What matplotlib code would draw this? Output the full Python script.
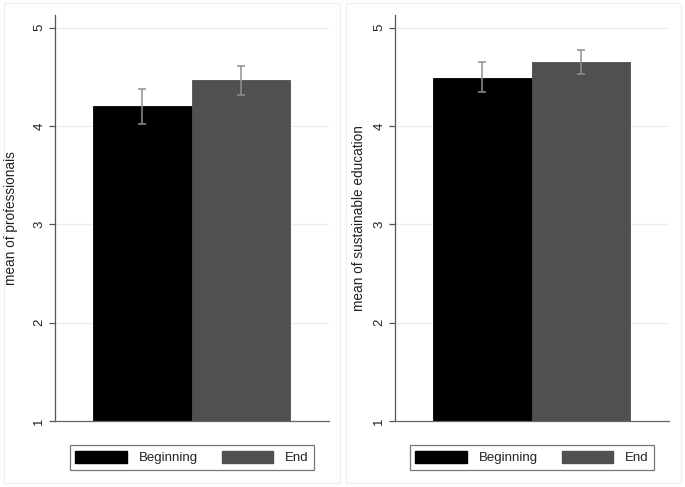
import matplotlib
matplotlib.use("Agg")
import matplotlib.pyplot as plt
from matplotlib.patches import Rectangle, Patch

plt.rcParams['font.family'] = ['Liberation Sans', 'DejaVu Sans']

groups = ["Beginning", "End"]
colors = ["#000000", "#505050"]
ylabels = ["mean of professionals", "mean of sustainable education"]
means = [[4.20, 4.47], [4.49, 4.65]]
err_lo = [[4.02, 4.32], [4.35, 4.53]]
err_hi = [[4.38, 4.61], [4.65, 4.77]]
yticks = [1, 2, 3, 4, 5]

W, H = 685, 487
fig = plt.figure(figsize=(W / 100, H / 100), dpi=100)

axes_px = [(55, 329), (395, 669)]
frames_px = [(4, 340), (346, 681)]
label_x_px = [18, 366]
top_px, bot_px = 15, 421

for i in range(2):
    x0, x1 = axes_px[i]
    ax = fig.add_axes([x0 / W, 1 - bot_px / H, (x1 - x0) / W, (bot_px - top_px) / H])
    fx0, fx1 = frames_px[i]
    fig.patches.append(Rectangle((fx0 / W, 1 - 483 / H), (fx1 - fx0) / W, 480 / H,
                                 transform=fig.transFigure, fill=False,
                                 edgecolor="#eef2f3", linewidth=1.0, zorder=0))
    xs = [0, 1]
    ax.bar(xs, means[i], width=1.0, bottom=0, color=colors, edgecolor=colors,
           linewidth=0.6, zorder=2)
    for j in range(2):
        m = means[i][j]
        ax.errorbar(xs[j], m, yerr=[[m - err_lo[i][j]], [err_hi[i][j] - m]],
                    fmt="none", ecolor="#8f8f8f", elinewidth=1.1, capsize=3,
                    capthick=1.1, zorder=3)
    ax.set_xlim(-0.885, 1.895)
    ax.set_ylim(1, 5.13)
    ax.set_yticks(yticks)
    ax.set_yticklabels([str(t) for t in yticks], rotation=90, va="center",
                       fontsize=9.5, color="#222222")
    ax.yaxis.grid(True, color="#e6eff2", linewidth=0.9, zorder=0)
    ax.set_axisbelow(True)
    ax.set_xticks([])
    for s in ["top", "right"]:
        ax.spines[s].set_visible(False)
    ax.spines["left"].set_color("#555555")
    ax.spines["left"].set_linewidth(0.9)
    ax.spines["bottom"].set_color("#666666")
    ax.spines["bottom"].set_linewidth(0.9)
    ax.tick_params(axis="y", length=4, width=0.9, color="#555555", pad=3)
    ax.set_ylabel(ylabels[i], fontsize=9.8, color="#222222")
    ax.yaxis.set_label_coords((label_x_px[i] - x0) / (x1 - x0), 0.5)

    handles = [Patch(facecolor=colors[k], edgecolor=colors[k]) for k in range(2)]
    leg = ax.legend(handles, groups, loc="center", ncol=2,
                    bbox_to_anchor=(0.5, (421 - 457.5) / (421 - 15)),
                    frameon=True, fancybox=False, fontsize=9.5,
                    handlelength=3.9, handleheight=1.1, columnspacing=1.8,
                    handletextpad=0.9, borderpad=0.4)
    leg.get_frame().set_edgecolor("#555555")
    leg.get_frame().set_linewidth(0.9)
    for t in leg.get_texts():
        t.set_color("#222222")

fig.savefig("out.png", dpi=100, facecolor="white")
